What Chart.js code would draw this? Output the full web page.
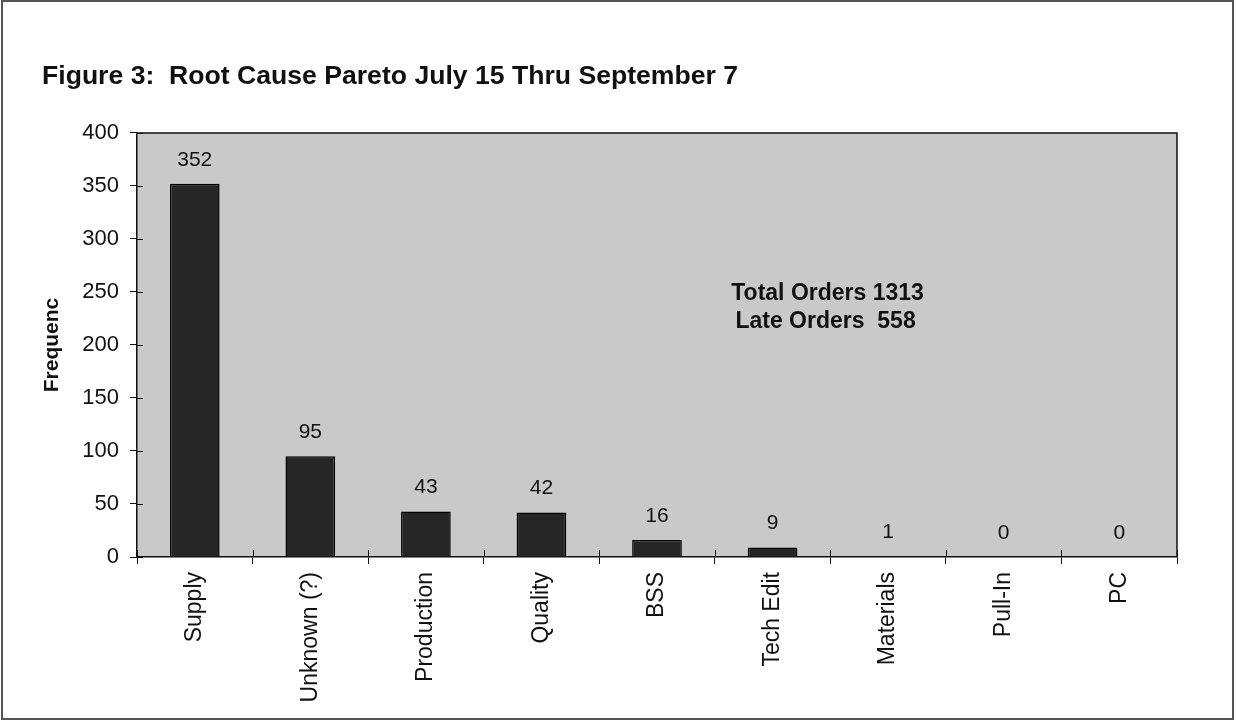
<!DOCTYPE html>
<html><head><meta charset="utf-8">
<script src="https://cdn.jsdelivr.net/npm/chart.js@4/dist/chart.umd.min.js"></script>
<style>html,body{margin:0;padding:0;background:#fff;overflow:hidden}#wrap{width:1236px;height:725px;position:relative}</style>
</head><body><div id="wrap"><canvas id="c" width="1236" height="725"></canvas></div>
<script>
const categories = ['Supply', 'Unknown (?)', 'Production', 'Quality', 'BSS', 'Tech Edit', 'Materials', 'Pull-In', 'PC'];
const frequencies = [352, 95, 43, 42, 16, 9, 1, 0, 0];
const yTickValues = [0, 50, 100, 150, 200, 250, 300, 350, 400];
const titleText = 'Figure 3:  Root Cause Pareto July 15 Thru September 7';
const yAxisTitle = 'Frequenc';
const annotationLines = ['Total Orders 1313', 'Late Orders  558'];

const FONT = '"Liberation Sans", Arial, sans-serif';

const decor = {
  id: 'decor',
  beforeDraw(chart) {
    const {ctx, chartArea: a} = chart;
    ctx.save();
    ctx.fillStyle = '#fff';
    ctx.fillRect(0, 0, chart.width, chart.height);
    ctx.strokeStyle = '#555';
    ctx.lineWidth = 2;
    ctx.strokeRect(2, 1, 1231, 718);
    ctx.fillStyle = '#c9c9c9';
    ctx.fillRect(a.left, a.top, a.right - a.left, a.bottom - a.top);
    ctx.restore();
  },
  afterDatasetsDraw(chart) {
    const {ctx, chartArea: a, scales} = chart;
    ctx.save();
    ctx.strokeStyle = '#111';
    ctx.lineWidth = 1.5;
    ctx.beginPath();
    ctx.moveTo(a.left, a.top); ctx.lineTo(a.right, a.top); ctx.lineTo(a.right, a.bottom);
    ctx.stroke();
    // inner halves of crossing tick marks
    ctx.lineWidth = 1;
    ctx.beginPath();
    const xs = scales.x;
    const half = xs.width / categories.length / 2;
    for (let i = 0; i <= categories.length; i++) {
      const px = Math.round(i < categories.length ? xs.getPixelForTick(i) - half : xs.getPixelForTick(i - 1) + half) + 0.5;
      ctx.moveTo(px, a.bottom); ctx.lineTo(px, a.bottom - 7);
    }
    const ys = scales.y;
    yTickValues.forEach(v => {
      const py = Math.round(ys.getPixelForValue(v)) + 0.5;
      ctx.moveTo(a.left, py); ctx.lineTo(a.left + 6, py);
    });
    ctx.stroke();
    // value labels
    const meta = chart.getDatasetMeta(0);
    ctx.fillStyle = '#111';
    ctx.font = '21px ' + FONT;
    ctx.textAlign = 'center';
    ctx.textBaseline = 'middle';
    meta.data.forEach((bar, i) => {
      ctx.fillText(String(frequencies[i]), bar.x, bar.y - 24);
    });
    // annotation
    ctx.font = 'bold 23px ' + FONT;
    const ax = a.left + (a.right - a.left) * 0.664;
    const ay = a.top + (a.bottom - a.top) * 0.378;
    ctx.fillText(annotationLines[0], ax, ay);
    ctx.fillText(annotationLines[1], ax - 2, ay + 28);
    ctx.restore();
  }
};

new Chart(document.getElementById('c'), {
  type: 'bar',
  data: {
    labels: categories,
    datasets: [{
      data: frequencies,
      backgroundColor: '#262626',
      borderColor: '#000',
      borderWidth: 1.5,
      categoryPercentage: 1,
      barPercentage: 0.43
    }]
  },
  options: {
    responsive: false,
    animation: false,
    devicePixelRatio: 1,
    layout: {padding: {left: 42, right: 59, top: 0, bottom: 0}},
    plugins: {
      legend: {display: false},
      tooltip: {enabled: false},
      title: {
        display: true,
        text: titleText,
        align: 'start',
        color: '#111',
        font: {family: FONT, size: 26.6, weight: 'bold', lineHeight: 1.2},
        padding: {top: 61, bottom: 40}
      }
    },
    scales: {
      x: {
        grid: {drawOnChartArea: false, tickLength: 7, color: '#111', offset: true},
        border: {color: '#111', width: 1.5},
        ticks: {
          color: '#111', font: {family: FONT, size: 23},
          maxRotation: 90, minRotation: 90, padding: 8, autoSkip: false
        },
        afterFit(s) { s.height = 168; }
      },
      y: {
        min: 0, max: 400,
        afterBuildTicks(s) { s.ticks = yTickValues.map(v => ({value: v})); },
        grid: {drawOnChartArea: false, tickLength: 7, color: '#111'},
        border: {color: '#111', width: 1.5},
        ticks: {color: '#111', font: {family: FONT, size: 22}, padding: 11},
        title: {
          display: true, text: yAxisTitle, color: '#111',
          font: {family: FONT, size: 21, weight: 'bold', lineHeight: 1}, padding: 0
        },
        afterFit(s) { s.width = 95; }
      }
    }
  },
  plugins: [decor]
});
</script></body></html>
